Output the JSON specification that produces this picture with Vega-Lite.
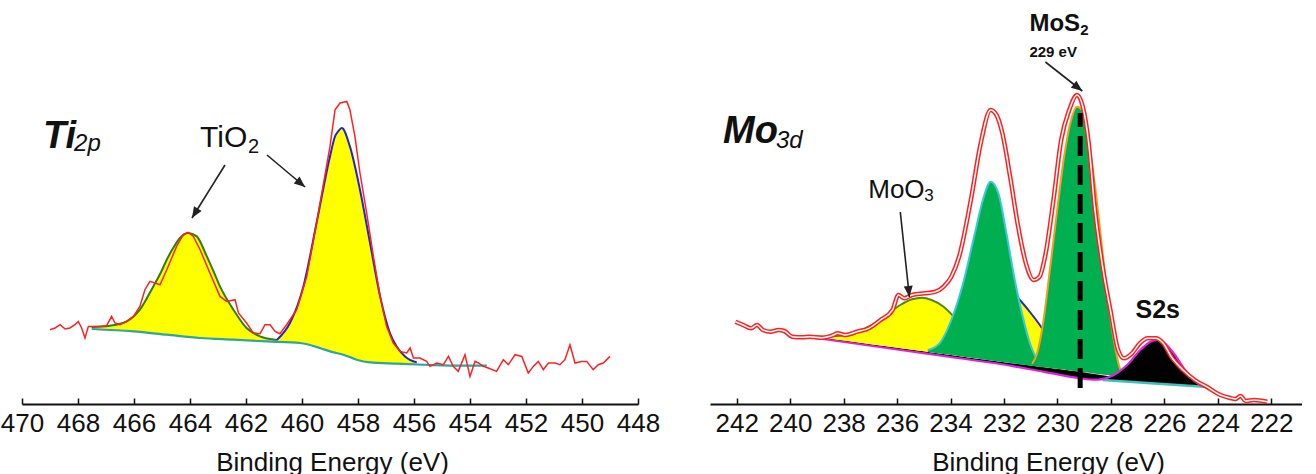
{
  "$schema": "https://vega.github.io/schema/vega-lite/v6.json",
  "padding": {"left": 0, "top": 0, "right": 0, "bottom": 0},
  "bounds": "flush",
  "spacing": 72,
  "config": {
    "view": {"stroke": null},
    "font": "Liberation Sans",
    "axis": {
      "domainColor": "#111111", "domainWidth": 2, "tickColor": "#111111", "tickWidth": 1.5,
      "tickSize": -6, "labelPadding": 12, "labelFontSize": 26, "labelFont": "Liberation Sans",
      "labelColor": "#111111", "labelFlush": false, "labelOverlap": false, "grid": false,
      "titleFontSize": 26, "titleFont": "Liberation Sans", "titleFontWeight": "normal", "titleColor": "#111111",
      "titleY": 66, "titleBaseline": "alphabetic", "titleAlign": "center", "titleAnchor": "start"
    }
  },
  "datasets": {
    "ti": [
      {"s":"raw","eV":469.00,"h":74.3},{"s":"raw","eV":468.82,"h":76.0},{"s":"raw","eV":468.64,"h":79.3},{"s":"raw","eV":468.46,"h":75.0},{"s":"raw","eV":468.29,"h":76.0},{"s":"raw","eV":468.11,"h":79.3},{"s":"raw","eV":467.99,"h":82.6},{"s":"raw","eV":467.87,"h":76.0},{"s":"raw","eV":467.75,"h":66.0},{"s":"raw","eV":467.63,"h":77.6},{"s":"raw","eV":467.45,"h":77.6},{"s":"raw","eV":467.21,"h":77.6},{"s":"raw","eV":466.98,"h":78.3},{"s":"raw","eV":466.80,"h":87.6},{"s":"raw","eV":466.68,"h":81.0},{"s":"raw","eV":466.50,"h":79.3},{"s":"raw","eV":466.26,"h":82.6},{"s":"raw","eV":466.02,"h":87.6},{"s":"raw","eV":465.79,"h":97.6},{"s":"raw","eV":465.61,"h":114.3},{"s":"raw","eV":465.43,"h":122.6},{"s":"raw","eV":465.25,"h":121.0},{"s":"raw","eV":465.07,"h":119.3},{"s":"raw","eV":464.83,"h":134.3},{"s":"raw","eV":464.48,"h":157.6},{"s":"raw","eV":464.24,"h":169.3},{"s":"raw","eV":464.06,"h":171.6},{"s":"raw","eV":463.88,"h":167.6},{"s":"raw","eV":463.64,"h":154.3},{"s":"raw","eV":463.29,"h":131.0},{"s":"raw","eV":462.93,"h":107.6},{"s":"raw","eV":462.69,"h":102.6},{"s":"raw","eV":462.39,"h":104.3},{"s":"raw","eV":462.27,"h":91.0},{"s":"raw","eV":461.98,"h":81.0},{"s":"raw","eV":461.74,"h":71.0},{"s":"raw","eV":461.50,"h":70.3},{"s":"raw","eV":461.32,"h":79.3},{"s":"raw","eV":461.14,"h":79.3},{"s":"raw","eV":460.96,"h":72.6},{"s":"raw","eV":460.79,"h":70.3},{"s":"raw","eV":460.55,"h":79.3},{"s":"raw","eV":460.19,"h":94.3},{"s":"raw","eV":459.83,"h":127.6},{"s":"raw","eV":459.48,"h":181.0},{"s":"raw","eV":459.00,"h":257.6},{"s":"raw","eV":458.82,"h":294.3},{"s":"raw","eV":458.64,"h":301.0},{"s":"raw","eV":458.40,"h":302.6},{"s":"raw","eV":458.29,"h":294.3},{"s":"raw","eV":458.11,"h":267.6},{"s":"raw","eV":457.93,"h":231.0},{"s":"raw","eV":457.69,"h":191.0},{"s":"raw","eV":457.45,"h":147.6},{"s":"raw","eV":457.21,"h":107.6},{"s":"raw","eV":456.98,"h":77.6},{"s":"raw","eV":456.74,"h":61.0},{"s":"raw","eV":456.50,"h":52.6},{"s":"raw","eV":456.26,"h":51.0},{"s":"raw","eV":456.14,"h":56.0},{"s":"raw","eV":456.02,"h":46.0},{"s":"raw","eV":455.79,"h":46.0},{"s":"raw","eV":455.55,"h":42.6},{"s":"raw","eV":455.43,"h":37.6},{"s":"raw","eV":455.19,"h":41.0},{"s":"raw","eV":454.95,"h":39.3},{"s":"raw","eV":454.77,"h":47.6},{"s":"raw","eV":454.60,"h":37.6},{"s":"raw","eV":454.42,"h":32.6},{"s":"raw","eV":454.18,"h":49.3},{"s":"raw","eV":454.00,"h":27.6},{"s":"raw","eV":453.82,"h":42.6},{"s":"raw","eV":453.70,"h":41.0},{"s":"raw","eV":453.52,"h":37.6},{"s":"raw","eV":453.35,"h":36.0},{"s":"raw","eV":453.05,"h":32.6},{"s":"raw","eV":452.81,"h":44.3},{"s":"raw","eV":452.63,"h":39.3},{"s":"raw","eV":452.39,"h":49.3},{"s":"raw","eV":452.15,"h":47.6},{"s":"raw","eV":451.92,"h":31.0},{"s":"raw","eV":451.74,"h":37.6},{"s":"raw","eV":451.56,"h":42.6},{"s":"raw","eV":451.38,"h":34.3},{"s":"raw","eV":451.20,"h":41.0},{"s":"raw","eV":450.96,"h":41.0},{"s":"raw","eV":450.79,"h":39.3},{"s":"raw","eV":450.61,"h":44.3},{"s":"raw","eV":450.43,"h":59.3},{"s":"raw","eV":450.25,"h":41.0},{"s":"raw","eV":450.01,"h":42.6},{"s":"raw","eV":449.83,"h":42.6},{"s":"raw","eV":449.60,"h":34.3},{"s":"raw","eV":449.42,"h":39.3},{"s":"raw","eV":449.24,"h":41.0},{"s":"raw","eV":449.00,"h":47.6},
      {"s":"p1","eV":467.51,"h":77.0,"b":75.0},{"s":"p1","eV":466.86,"h":78.3,"b":74.0},{"s":"p1","eV":466.26,"h":82.6,"b":73.0},{"s":"p1","eV":465.79,"h":94.3,"b":72.0},{"s":"p1","eV":465.31,"h":117.6,"b":71.0},{"s":"p1","eV":465.05,"h":131.0,"b":70.2},{"s":"p1","eV":464.83,"h":144.3,"b":69.3},{"s":"p1","eV":464.60,"h":156.0,"b":68.7},{"s":"p1","eV":464.36,"h":166.0,"b":68.0},{"s":"p1","eV":464.06,"h":171.0,"b":67.5},{"s":"p1","eV":463.76,"h":167.6,"b":66.5},{"s":"p1","eV":463.40,"h":147.6,"b":65.7},{"s":"p1","eV":463.15,"h":132.0,"b":65.3},{"s":"p1","eV":462.93,"h":117.6,"b":65.0},{"s":"p1","eV":462.45,"h":94.3,"b":64.3},{"s":"p1","eV":461.98,"h":76.0,"b":63.5},{"s":"p1","eV":461.50,"h":67.6,"b":63.0},{"s":"p1","eV":460.90,"h":64.0,"b":62.0},
      {"s":"p2","eV":460.90,"h":64.0,"b":62.0},{"s":"p2","eV":460.43,"h":81.0,"b":61.5},{"s":"p2","eV":459.95,"h":117.6,"b":60.5},{"s":"p2","eV":459.48,"h":181.0,"b":58.5},{"s":"p2","eV":459.00,"h":247.6,"b":52.6},{"s":"p2","eV":458.82,"h":267.6,"b":51.5},{"s":"p2","eV":458.70,"h":273.0,"b":50.5},{"s":"p2","eV":458.58,"h":276.0,"b":49.5},{"s":"p2","eV":458.29,"h":257.6,"b":46.5},{"s":"p2","eV":457.93,"h":214.3,"b":43.5},{"s":"p2","eV":457.57,"h":161.0,"b":41.6},{"s":"p2","eV":457.21,"h":107.6,"b":41.0},{"s":"p2","eV":456.86,"h":71.0,"b":40.6},{"s":"p2","eV":456.62,"h":57.6,"b":40.3},{"s":"p2","eV":456.32,"h":47.6,"b":40.0},{"s":"p2","eV":455.90,"h":41.6,"b":39.5},
      {"s":"bg","eV":467.51,"h":75.0},{"s":"bg","eV":466.02,"h":72.6},{"s":"bg","eV":464.83,"h":69.3},{"s":"bg","eV":463.64,"h":66.0},{"s":"bg","eV":462.45,"h":64.3},{"s":"bg","eV":461.26,"h":62.6},{"s":"bg","eV":460.07,"h":61.0},{"s":"bg","eV":459.36,"h":56.0},{"s":"bg","eV":459.00,"h":52.6},{"s":"bg","eV":458.52,"h":49.3},{"s":"bg","eV":458.05,"h":44.3},{"s":"bg","eV":457.57,"h":41.6},{"s":"bg","eV":456.62,"h":40.3},{"s":"bg","eV":455.43,"h":39.0},{"s":"bg","eV":454.24,"h":38.3},{"s":"bg","eV":453.40,"h":38.3}
    ],
    "tiArrows": [
      {"id":"a1","eV":463.93,"h":186,"eV2":462.75,"h2":239},
      {"id":"a2","eV":459.89,"h":217,"eV2":461.25,"h2":249}
    ],
    "tiText": [
      {"id":"main","eV":469.25,"h":256,"t":"Ti"},
      {"id":"mainsub","eV":468.14,"h":253,"t":"2p"},
      {"id":"lab","eV":463.64,"h":257,"t":"TiO"},
      {"id":"labsub","eV":461.93,"h":251,"t":"2"}
    ],
    "mo": [
      {"s":"raw","eV":242.05,"h":82.3},{"s":"raw","eV":241.76,"h":79.0},{"s":"raw","eV":241.46,"h":75.7},{"s":"raw","eV":241.24,"h":79.0},{"s":"raw","eV":241.02,"h":74.0},{"s":"raw","eV":240.73,"h":72.3},{"s":"raw","eV":240.44,"h":74.0},{"s":"raw","eV":240.22,"h":73.0},{"s":"raw","eV":239.92,"h":67.3},{"s":"raw","eV":239.55,"h":66.7},{"s":"raw","eV":239.26,"h":67.3},{"s":"raw","eV":238.82,"h":66.3},{"s":"raw","eV":238.38,"h":69.0},{"s":"raw","eV":238.23,"h":70.7},{"s":"raw","eV":237.94,"h":69.0},{"s":"raw","eV":237.50,"h":72.3},{"s":"raw","eV":237.06,"h":75.7},{"s":"raw","eV":236.62,"h":84.0},{"s":"raw","eV":236.17,"h":94.0},{"s":"raw","eV":235.95,"h":109.0},{"s":"raw","eV":235.73,"h":105.7},{"s":"raw","eV":235.44,"h":109.0},{"s":"raw","eV":234.97,"h":110.7},{"s":"raw","eV":234.56,"h":112.3},{"s":"raw","eV":234.26,"h":117.3},{"s":"raw","eV":233.97,"h":127.3},{"s":"raw","eV":233.68,"h":147.3},{"s":"raw","eV":233.24,"h":204.0},{"s":"raw","eV":232.87,"h":260.7},{"s":"raw","eV":232.50,"h":294.0},{"s":"raw","eV":232.28,"h":289.0},{"s":"raw","eV":232.06,"h":270.7},{"s":"raw","eV":231.77,"h":227.3},{"s":"raw","eV":231.47,"h":177.3},{"s":"raw","eV":231.18,"h":140.7},{"s":"raw","eV":230.89,"h":124.0},{"s":"raw","eV":230.67,"h":127.3},{"s":"raw","eV":230.44,"h":150.7},{"s":"raw","eV":230.15,"h":204.0},{"s":"raw","eV":229.86,"h":264.0},{"s":"raw","eV":229.56,"h":294.0},{"s":"raw","eV":229.27,"h":309.0},{"s":"raw","eV":229.05,"h":297.3},{"s":"raw","eV":228.83,"h":260.7},{"s":"raw","eV":228.61,"h":197.3},{"s":"raw","eV":228.31,"h":137.3},{"s":"raw","eV":228.02,"h":94.0},{"s":"raw","eV":227.73,"h":54.0},{"s":"raw","eV":227.51,"h":45.7},{"s":"raw","eV":227.21,"h":50.7},{"s":"raw","eV":226.92,"h":60.7},{"s":"raw","eV":226.62,"h":65.7},{"s":"raw","eV":226.33,"h":65.7},{"s":"raw","eV":226.04,"h":60.7},{"s":"raw","eV":225.74,"h":47.3},{"s":"raw","eV":225.30,"h":34.0},{"s":"raw","eV":224.86,"h":24.0},{"s":"raw","eV":224.42,"h":17.3},{"s":"raw","eV":223.90,"h":9.0},{"s":"raw","eV":223.53,"h":6.0},{"s":"raw","eV":223.34,"h":5.0},{"s":"raw","eV":223.15,"h":8.0},{"s":"raw","eV":222.96,"h":3.0},{"s":"raw","eV":222.65,"h":4.0},{"s":"raw","eV":222.15,"h":2.3},
      {"s":"wedge","eV":239.3,"h":68,"b":67},{"s":"wedge","eV":238.0,"h":63.5,"b":62},{"s":"wedge","eV":236.0,"h":56.2,"b":54.5},{"s":"wedge","eV":234.0,"h":49.0,"b":47.0},{"s":"wedge","eV":232.14,"h":42.3,"b":40.0},{"s":"wedge","eV":230.5,"h":36.8,"b":32.2},{"s":"wedge","eV":229.14,"h":32.3,"b":25.7},{"s":"wedge","eV":228.5,"h":29.5,"b":24.3},{"s":"wedge","eV":228.0,"h":27.5,"b":24.0},
      {"s":"y1","eV":238.97,"h":67.2,"b":67.0},{"s":"y1","eV":237.79,"h":69.0,"b":62.7},{"s":"y1","eV":237.06,"h":77.3,"b":60.1},{"s":"y1","eV":236.47,"h":87.3,"b":57.9},{"s":"y1","eV":235.88,"h":99.0,"b":55.8},{"s":"y1","eV":235.44,"h":104.7,"b":54.2},{"s":"y1","eV":235.07,"h":106.3,"b":52.9},{"s":"y1","eV":234.71,"h":104.0,"b":51.6},{"s":"y1","eV":234.26,"h":97.3,"b":50.0},{"s":"y1","eV":233.82,"h":85.7,"b":48.4},{"s":"y1","eV":233.38,"h":72.0,"b":46.8},{"s":"y1","eV":232.94,"h":60.0,"b":45.2},
      {"s":"y2","eV":233.6,"h":75,"b":47.8},{"s":"y2","eV":233.2,"h":100,"b":46.4},{"s":"y2","eV":232.6,"h":118,"b":44.2},{"s":"y2","eV":232.0,"h":118,"b":42.0},{"s":"y2","eV":231.47,"h":105.7,"b":40.4},{"s":"y2","eV":231.0,"h":91,"b":38.8},{"s":"y2","eV":230.66,"h":79,"b":37.4},{"s":"y2","eV":230.3,"h":64,"b":36.2},{"s":"y2","eV":229.9,"h":50,"b":34.9},{"s":"y2","eV":229.5,"h":41,"b":33.6},{"s":"y2","eV":229.0,"h":35,"b":31.9},
      {"s":"g1","eV":234.85,"h":54.0,"b":52.1},{"s":"g1","eV":234.41,"h":60.7,"b":50.5},{"s":"g1","eV":233.97,"h":84.0,"b":48.9},{"s":"g1","eV":233.53,"h":120.7,"b":47.3},{"s":"g1","eV":233.09,"h":170.7,"b":45.7},{"s":"g1","eV":232.79,"h":204.0,"b":44.6},{"s":"g1","eV":232.50,"h":222.3,"b":43.6},{"s":"g1","eV":232.21,"h":210.7,"b":42.5},{"s":"g1","eV":231.91,"h":170.7,"b":41.5},{"s":"g1","eV":231.62,"h":127.3,"b":40.6},{"s":"g1","eV":231.33,"h":90.7,"b":39.6},{"s":"g1","eV":231.03,"h":60.7,"b":38.6},{"s":"g1","eV":230.74,"h":44.0,"b":37.6},{"s":"g1","eV":230.44,"h":38.0,"b":36.6},
      {"s":"g2","eV":230.95,"h":40.0,"b":38.3},{"s":"g2","eV":230.76,"h":50.7,"b":37.7},{"s":"g2","eV":230.52,"h":84.0,"b":36.9},{"s":"g2","eV":230.27,"h":137.3,"b":36.1},{"s":"g2","eV":230.01,"h":194.0,"b":35.2},{"s":"g2","eV":229.77,"h":244.0,"b":34.4},{"s":"g2","eV":229.52,"h":280.7,"b":33.6},{"s":"g2","eV":229.27,"h":297.3,"b":32.7},{"s":"g2","eV":229.08,"h":294.0,"b":32.1},{"s":"g2","eV":228.89,"h":270.7,"b":31.4},{"s":"g2","eV":228.64,"h":227.3,"b":30.6},{"s":"g2","eV":228.39,"h":170.7,"b":29.8},{"s":"g2","eV":228.14,"h":110.7,"b":28.9},{"s":"g2","eV":227.89,"h":64.0,"b":28.1},{"s":"g2","eV":227.64,"h":34.0,"b":27.3},{"s":"g2","eV":227.40,"h":27.5,"b":26.5},
      {"s":"s2s","eV":228.39,"h":24.7,"b":24.0},{"s":"s2s","eV":227.89,"h":29.0,"b":23.2},{"s":"s2s","eV":227.39,"h":39.0,"b":22.4},{"s":"s2s","eV":226.90,"h":54.0,"b":21.6},{"s":"s2s","eV":226.52,"h":62.3,"b":21.0},{"s":"s2s","eV":226.27,"h":64.0,"b":20.6},{"s":"s2s","eV":226.02,"h":61.3,"b":20.2},{"s":"s2s","eV":225.65,"h":50.7,"b":19.6},{"s":"s2s","eV":225.27,"h":35.7,"b":19.0},{"s":"s2s","eV":224.90,"h":24.0,"b":18.4},{"s":"s2s","eV":224.65,"h":19.0,"b":18.0},{"s":"s2s","eV":224.45,"h":17.0,"b":17.0},
      {"s":"mag","eV":239.3,"h":67},{"s":"mag","eV":236.0,"h":54.5},{"s":"mag","eV":234.0,"h":47.0},{"s":"mag","eV":232.14,"h":40.0},{"s":"mag","eV":230.5,"h":32.2},{"s":"mag","eV":229.14,"h":25.7},{"s":"mag","eV":228.6,"h":24.3},{"s":"mag","eV":228.39,"h":24.7},{"s":"mag","eV":227.89,"h":29.0},{"s":"mag","eV":227.39,"h":39.0},{"s":"mag","eV":226.90,"h":54.0},{"s":"mag","eV":226.52,"h":62.3},{"s":"mag","eV":226.27,"h":64.0},{"s":"mag","eV":226.02,"h":61.3},{"s":"mag","eV":225.65,"h":50.7},{"s":"mag","eV":225.27,"h":35.7},{"s":"mag","eV":224.90,"h":24.0},{"s":"mag","eV":224.65,"h":19.0},{"s":"mag","eV":224.45,"h":17.0},
      {"s":"teal","eV":228.3,"h":24.0},{"s":"teal","eV":226.5,"h":20.8},{"s":"teal","eV":224.45,"h":17.0}
    ],
    "moMarker": [{"eV":229.15,"h":16,"h2":291}],
    "moArrows": [
      {"id":"a3","eV":235.54,"h":107,"eV2":235.88,"h2":192},
      {"id":"a4","eV":229.07,"h":313,"eV2":230.45,"h2":342}
    ],
    "moText": [
      {"id":"main","eV":242.51,"h":261,"t":"Mo"},
      {"id":"mainsub","eV":240.53,"h":256,"t":"3d"},
      {"id":"lab","eV":237.08,"h":206,"t":"MoO"},
      {"id":"labsub","eV":234.98,"h":203,"t":"3"},
      {"id":"mos","eV":231.05,"h":373,"t":"MoS"},
      {"id":"mossub","eV":229.15,"h":369,"t":"2"},
      {"id":"ev","eV":231.05,"h":347,"t":"229 eV"},
      {"id":"s2s","eV":227.08,"h":86,"t":"S2s"}
    ]
  },
  "hconcat": [
    {
      "width": 616,
      "height": 404,
      "encoding": {
        "x": {"field": "eV", "type": "quantitative",
          "scale": {"domain": [448, 470], "reverse": true, "nice": false, "zero": false},
          "axis": {"title": "Binding Energy (eV)", "values": [470,468,466,464,462,460,458,456,454,452,450,448], "labelDx": 11, "titleX": 310}},
        "y": {"field": "h", "type": "quantitative", "scale": {"domain": [0, 404], "nice": false, "zero": false}, "axis": null}
      },
      "layer": [
        {"data": {"name": "ti"}, "transform": [{"filter": {"field": "s", "equal": "p1"}}], "mark": {"type": "area", "color": "#FFFF00", "interpolate": "monotone"}, "encoding": {"y2": {"field": "b"}}},
        {"data": {"name": "ti"}, "transform": [{"filter": {"field": "s", "equal": "p2"}}], "mark": {"type": "area", "color": "#FFFF00", "interpolate": "monotone"}, "encoding": {"y2": {"field": "b"}}},
        {"data": {"name": "ti"}, "transform": [{"filter": {"field": "s", "equal": "p1"}}], "mark": {"type": "line", "color": "#2E7D1F", "strokeWidth": 2, "interpolate": "monotone"}},
        {"data": {"name": "ti"}, "transform": [{"filter": {"field": "s", "equal": "p2"}}], "mark": {"type": "line", "color": "#2626C8", "strokeWidth": 2, "interpolate": "monotone"}},
        {"data": {"name": "ti"}, "transform": [{"filter": {"field": "s", "equal": "bg"}}], "mark": {"type": "line", "color": "#2AA5A0", "strokeWidth": 2.2, "interpolate": "monotone"}},
        {"data": {"name": "ti"}, "transform": [{"filter": {"field": "s", "equal": "raw"}}], "mark": {"type": "line", "color": "#FF2020", "strokeWidth": 1.5}},
        {"data": {"name": "tiArrows"}, "mark": {"type": "rule", "color": "#222222", "strokeWidth": 1.6}, "encoding": {"x2": {"field": "eV2"}, "y2": {"field": "h2"}}},
        {"data": {"name": "tiArrows"}, "transform": [{"filter": {"field": "id", "equal": "a1"}}], "mark": {"type": "point", "shape": "M0,0L-0.45,1.1L0.45,1.1Z", "filled": true, "color": "#222222", "size": 400, "opacity": 1, "angle": 212}},
        {"data": {"name": "tiArrows"}, "transform": [{"filter": {"field": "id", "equal": "a2"}}], "mark": {"type": "point", "shape": "M0,0L-0.45,1.1L0.45,1.1Z", "filled": true, "color": "#222222", "size": 400, "opacity": 1, "angle": 130}},
        {"data": {"name": "tiText"}, "transform": [{"filter": {"field": "id", "equal": "main"}}], "mark": {"type": "text", "align": "left", "baseline": "alphabetic", "fontSize": 38, "fontWeight": "bold", "fontStyle": "italic", "color": "#111111"}, "encoding": {"text": {"field": "t"}}},
        {"data": {"name": "tiText"}, "transform": [{"filter": {"field": "id", "equal": "mainsub"}}], "mark": {"type": "text", "align": "left", "baseline": "alphabetic", "fontSize": 24, "fontStyle": "italic", "color": "#111111"}, "encoding": {"text": {"field": "t"}}},
        {"data": {"name": "tiText"}, "transform": [{"filter": {"field": "id", "equal": "lab"}}], "mark": {"type": "text", "align": "left", "baseline": "alphabetic", "fontSize": 30, "color": "#111111"}, "encoding": {"text": {"field": "t"}}},
        {"data": {"name": "tiText"}, "transform": [{"filter": {"field": "id", "equal": "labsub"}}], "mark": {"type": "text", "align": "left", "baseline": "alphabetic", "fontSize": 20, "color": "#111111"}, "encoding": {"text": {"field": "t"}}}
      ]
    },
    {
      "width": 592,
      "height": 404,
      "encoding": {
        "x": {"field": "eV", "type": "quantitative",
          "scale": {"domain": [220.85, 243], "reverse": true, "nice": false, "zero": false},
          "axis": {"title": "Binding Energy (eV)", "values": [242,240,238,236,234,232,230,228,226,224,222], "labelDx": 12, "titleX": 338}},
        "y": {"field": "h", "type": "quantitative", "scale": {"domain": [0, 404], "nice": false, "zero": false}, "axis": null}
      },
      "layer": [
        {"data": {"name": "mo"}, "transform": [{"filter": {"field": "s", "equal": "wedge"}}], "mark": {"type": "area", "color": "#000000", "interpolate": "monotone"}, "encoding": {"y2": {"field": "b"}}},
        {"data": {"name": "mo"}, "transform": [{"filter": {"field": "s", "equal": "y1"}}], "mark": {"type": "area", "color": "#FFFF00", "interpolate": "monotone"}, "encoding": {"y2": {"field": "b"}}},
        {"data": {"name": "mo"}, "transform": [{"filter": {"field": "s", "equal": "y2"}}], "mark": {"type": "area", "color": "#FFFF00", "interpolate": "monotone"}, "encoding": {"y2": {"field": "b"}}},
        {"data": {"name": "mo"}, "transform": [{"filter": {"field": "s", "equal": "y1"}}], "mark": {"type": "line", "color": "#4E8A1E", "strokeWidth": 2, "interpolate": "monotone"}},
        {"data": {"name": "mo"}, "transform": [{"filter": {"field": "s", "equal": "y2"}}], "mark": {"type": "line", "color": "#2626C8", "strokeWidth": 2, "interpolate": "monotone"}},
        {"data": {"name": "mo"}, "transform": [{"filter": {"field": "s", "equal": "g1"}}], "mark": {"type": "area", "color": "#00B050", "interpolate": "monotone"}, "encoding": {"y2": {"field": "b"}}},
        {"data": {"name": "mo"}, "transform": [{"filter": {"field": "s", "equal": "g1"}}], "mark": {"type": "line", "color": "#3CC8D8", "strokeWidth": 2, "interpolate": "monotone"}},
        {"data": {"name": "mo"}, "transform": [{"filter": {"field": "s", "equal": "g2"}}], "mark": {"type": "area", "color": "#00B050", "interpolate": "monotone"}, "encoding": {"y2": {"field": "b"}}},
        {"data": {"name": "mo"}, "transform": [{"filter": {"field": "s", "equal": "g2"}}], "mark": {"type": "line", "color": "#F0A020", "strokeWidth": 2, "interpolate": "monotone"}},
        {"data": {"name": "mo"}, "transform": [{"filter": {"field": "s", "equal": "s2s"}}], "mark": {"type": "area", "color": "#000000", "interpolate": "monotone"}, "encoding": {"y2": {"field": "b"}}},
        {"data": {"name": "mo"}, "transform": [{"filter": {"field": "s", "equal": "teal"}}], "mark": {"type": "line", "color": "#3CC0C0", "strokeWidth": 2.5, "interpolate": "monotone"}},
        {"data": {"name": "mo"}, "transform": [{"filter": {"field": "s", "equal": "mag"}}], "mark": {"type": "line", "color": "#E020E0", "strokeWidth": 2.2, "interpolate": "monotone"}},
        {"data": {"name": "mo"}, "transform": [{"filter": {"field": "s", "equal": "raw"}}], "mark": {"type": "line", "color": "#FF2020", "strokeWidth": 4.5, "interpolate": "monotone"}},
        {"data": {"name": "mo"}, "transform": [{"filter": {"field": "s", "equal": "raw"}}], "mark": {"type": "line", "color": "#FFFFFF", "strokeWidth": 1.5, "interpolate": "monotone"}},
        {"data": {"name": "moMarker"}, "mark": {"type": "rule", "color": "#000000", "strokeWidth": 5, "strokeDash": [20, 9]}, "encoding": {"y2": {"field": "h2"}}},
        {"data": {"name": "moArrows"}, "mark": {"type": "rule", "color": "#222222", "strokeWidth": 1.6}, "encoding": {"x2": {"field": "eV2"}, "y2": {"field": "h2"}}},
        {"data": {"name": "moArrows"}, "transform": [{"filter": {"field": "id", "equal": "a3"}}], "mark": {"type": "point", "shape": "M0,0L-0.45,1.1L0.45,1.1Z", "filled": true, "color": "#222222", "size": 400, "opacity": 1, "angle": 174}},
        {"data": {"name": "moArrows"}, "transform": [{"filter": {"field": "id", "equal": "a4"}}], "mark": {"type": "point", "shape": "M0,0L-0.45,1.1L0.45,1.1Z", "filled": true, "color": "#222222", "size": 400, "opacity": 1, "angle": 128}},
        {"data": {"name": "moText"}, "transform": [{"filter": {"field": "id", "equal": "main"}}], "mark": {"type": "text", "align": "left", "baseline": "alphabetic", "fontSize": 38, "fontWeight": "bold", "fontStyle": "italic", "color": "#111111"}, "encoding": {"text": {"field": "t"}}},
        {"data": {"name": "moText"}, "transform": [{"filter": {"field": "id", "equal": "mainsub"}}], "mark": {"type": "text", "align": "left", "baseline": "alphabetic", "fontSize": 24, "fontStyle": "italic", "color": "#111111"}, "encoding": {"text": {"field": "t"}}},
        {"data": {"name": "moText"}, "transform": [{"filter": {"field": "id", "equal": "lab"}}], "mark": {"type": "text", "align": "left", "baseline": "alphabetic", "fontSize": 26, "color": "#111111"}, "encoding": {"text": {"field": "t"}}},
        {"data": {"name": "moText"}, "transform": [{"filter": {"field": "id", "equal": "labsub"}}], "mark": {"type": "text", "align": "left", "baseline": "alphabetic", "fontSize": 17, "color": "#111111"}, "encoding": {"text": {"field": "t"}}},
        {"data": {"name": "moText"}, "transform": [{"filter": {"field": "id", "equal": "mos"}}], "mark": {"type": "text", "align": "left", "baseline": "alphabetic", "fontSize": 24, "fontWeight": "bold", "color": "#111111"}, "encoding": {"text": {"field": "t"}}},
        {"data": {"name": "moText"}, "transform": [{"filter": {"field": "id", "equal": "mossub"}}], "mark": {"type": "text", "align": "left", "baseline": "alphabetic", "fontSize": 15, "fontWeight": "bold", "color": "#111111"}, "encoding": {"text": {"field": "t"}}},
        {"data": {"name": "moText"}, "transform": [{"filter": {"field": "id", "equal": "ev"}}], "mark": {"type": "text", "align": "left", "baseline": "alphabetic", "fontSize": 15, "fontWeight": "bold", "color": "#111111"}, "encoding": {"text": {"field": "t"}}},
        {"data": {"name": "moText"}, "transform": [{"filter": {"field": "id", "equal": "s2s"}}], "mark": {"type": "text", "align": "left", "baseline": "alphabetic", "fontSize": 25, "fontWeight": "bold", "color": "#111111"}, "encoding": {"text": {"field": "t"}}}
      ]
    }
  ]
}
